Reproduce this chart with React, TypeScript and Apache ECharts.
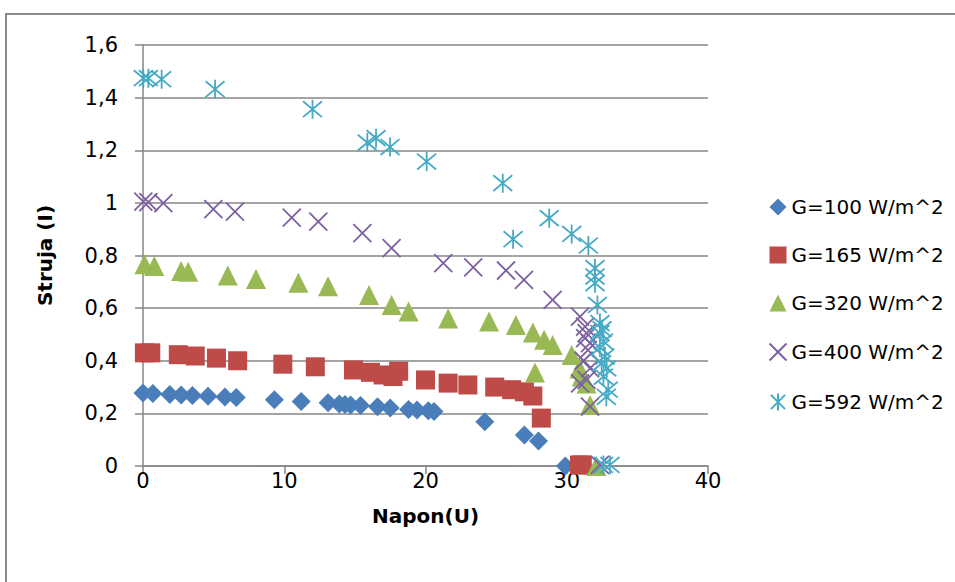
import React, { useEffect, useRef } from "react";
import * as echarts from "echarts";

const seriesNames = ["G=100 W/m^2", "G=165 W/m^2", "G=320 W/m^2", "G=400 W/m^2", "G=592 W/m^2"];

const g100V = [0.0, 0.7, 1.9, 2.7, 3.5, 4.6, 5.8, 6.6, 9.3, 11.2, 13.1, 13.9, 14.3, 14.7, 15.4, 16.6, 17.5, 18.8, 19.4, 20.2, 20.6, 24.2, 27.0, 28.0, 29.9];
const g100I = [0.277, 0.276, 0.272, 0.27, 0.268, 0.265, 0.262, 0.26, 0.252, 0.245, 0.24, 0.236, 0.234, 0.232, 0.23, 0.225, 0.22, 0.215, 0.213, 0.21, 0.207, 0.168, 0.118, 0.095, 0.0];

const g165V = [0.1, 0.55, 2.5, 3.7, 5.2, 6.7, 9.9, 12.2, 14.9, 16.1, 17.0, 17.7, 18.1, 20.0, 21.6, 23.0, 24.9, 26.1, 27.0, 27.6, 28.2, 30.9, 31.1];
const g165I = [0.43, 0.43, 0.423, 0.418, 0.41, 0.4, 0.387, 0.377, 0.365, 0.356, 0.346, 0.34, 0.36, 0.327, 0.315, 0.308, 0.3, 0.29, 0.282, 0.266, 0.182, 0.004, 0.004];

const g320V = [0.1, 0.8, 2.7, 3.2, 6.0, 8.0, 11.0, 13.1, 16.0, 17.6, 18.8, 21.6, 24.5, 26.4, 27.6, 28.4, 29.0, 30.35, 30.9, 31.06, 31.4, 27.75, 31.65, 32.1];
const g320I = [0.767, 0.76, 0.741, 0.738, 0.724, 0.711, 0.696, 0.683, 0.65, 0.612, 0.587, 0.561, 0.549, 0.536, 0.507, 0.48, 0.46, 0.422, 0.371, 0.34, 0.314, 0.355, 0.232, 0.0];

const g400V = [0.02, 0.38, 1.44, 4.98, 6.51, 10.53, 12.41, 15.53, 17.6, 21.26, 23.38, 25.7, 26.97, 29.0, 30.94, 31.3, 31.4, 31.3, 31.65, 31.5, 31.2, 31.65, 31.4, 30.94, 31.65, 32.35];
const g400I = [1.005, 1.003, 0.999, 0.976, 0.967, 0.944, 0.929, 0.885, 0.828, 0.771, 0.755, 0.743, 0.707, 0.631, 0.568, 0.53, 0.505, 0.486, 0.467, 0.44, 0.4, 0.371, 0.327, 0.314, 0.226, 0.004];

const g592V = [0.02, 0.38, 1.32, 5.1, 12.0, 15.88, 16.5, 17.49, 20.08, 25.47, 26.2, 28.76, 30.35, 31.53, 32.0, 32.0, 32.0, 32.17, 32.35, 32.5, 32.35, 32.6, 32.35, 32.7, 32.47, 32.83, 32.6, 32.94, 32.8, 32.6, 33.06];
const g592I = [1.474, 1.474, 1.47, 1.432, 1.356, 1.229, 1.246, 1.212, 1.157, 1.075, 0.862, 0.942, 0.882, 0.838, 0.752, 0.72, 0.695, 0.612, 0.543, 0.52, 0.505, 0.473, 0.45, 0.416, 0.39, 0.371, 0.34, 0.29, 0.263, 0.004, 0.004];

const FONT = "DejaVu Sans";

const zip = (a: number[], b: number[]) => a.map((v, i) => [v, b[i]]);

export default function App() {
  const ref = useRef<HTMLDivElement>(null);
  useEffect(() => {
    if (!ref.current) return;
    const chart = echarts.init(ref.current, undefined, { renderer: "svg" });
    const xPath = "path://M0,0L10,10M10,0L0,10";
    const starPath = "path://M0,0L10,10M10,0L0,10M5,-1L5,11";
    chart.setOption({
      animation: false,
      backgroundColor: "#ffffff",
      textStyle: { fontFamily: FONT },
      graphic: [
        {
          type: "rect",
          silent: true,
          shape: { x: 6, y: 14, width: 1200, height: 800 },
          style: { fill: "none", stroke: "#8a8a8a", lineWidth: 2 },
        },
      ],
      grid: { left: 143, top: 45, right: 247, bottom: 116, containLabel: false },
      legend: {
        orient: "vertical",
        left: 762,
        top: 192,
        itemWidth: 17,
        itemHeight: 17,
        itemGap: 28,
        textStyle: { fontFamily: FONT, fontSize: 20, color: "#000" },
        data: seriesNames,
      },
      xAxis: {
        type: "value",
        min: 0,
        max: 40,
        interval: 10,
        name: "Napon(U)",
        nameLocation: "middle",
        nameGap: 40,
        nameTextStyle: { fontFamily: FONT, fontSize: 20, fontWeight: "bold", color: "#000" },
        axisLine: { show: true, onZero: false, lineStyle: { color: "#868686", width: 1.5 } },
        axisTick: { show: true, length: 8, lineStyle: { color: "#868686", width: 1.5 } },
        axisLabel: { fontFamily: FONT, fontSize: 21, color: "#000", margin: 4 },
        splitLine: { show: false },
      },
      yAxis: {
        type: "value",
        min: 0,
        max: 1.6,
        interval: 0.2,
        name: "Struja (I)",
        nameLocation: "middle",
        nameGap: 88,
        nameRotate: 90,
        nameTextStyle: { fontFamily: FONT, fontSize: 20, fontWeight: "bold", color: "#000" },
        axisLine: { show: true, lineStyle: { color: "#868686", width: 1.5 } },
        axisTick: { show: true, length: 8, lineStyle: { color: "#868686", width: 1.5 } },
        axisLabel: {
          fontFamily: FONT,
          fontSize: 21,
          color: "#000",
          margin: 25,
          formatter: (v: number) => String(Number(v.toFixed(1))).replace(".", ","),
        },
        splitLine: { show: true, lineStyle: { color: "#868686", width: 1.5 } },
      },
      series: [
        {
          name: seriesNames[0],
          type: "scatter",
          symbol: "diamond",
          symbolSize: 19,
          itemStyle: { color: "#4A7EBB", opacity: 1 },
          data: zip(g100V, g100I),
        },
        {
          name: seriesNames[1],
          type: "scatter",
          symbol: "rect",
          symbolSize: 19,
          itemStyle: { color: "#BE4B48", opacity: 1 },
          data: zip(g165V, g165I),
        },
        {
          name: seriesNames[2],
          type: "scatter",
          symbol: "triangle",
          symbolSize: 20,
          itemStyle: { color: "#98B954", opacity: 1 },
          data: zip(g320V, g320I),
        },
        {
          name: seriesNames[3],
          type: "scatter",
          symbol: xPath,
          symbolSize: 18,
          itemStyle: { color: "none", borderColor: "#7D60A0", borderWidth: 1.8, opacity: 1 },
          data: zip(g400V, g400I),
        },
        {
          name: seriesNames[4],
          type: "scatter",
          symbol: starPath,
          symbolSize: 19,
          itemStyle: { color: "none", borderColor: "#46AAC5", borderWidth: 1.8, opacity: 1 },
          data: zip(g592V, g592I),
        },
      ],
    });
    return () => chart.dispose();
  }, []);
  return (
    <div
      ref={ref}
      style={{ position: "absolute", left: 0, top: 0, width: 955, height: 582 }}
    />
  );
}
